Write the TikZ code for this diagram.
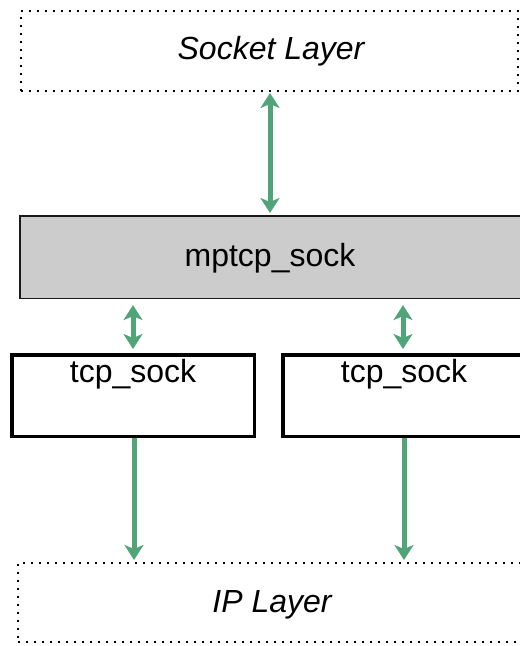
\documentclass[tikz,border=0pt]{standalone}
\usepackage{fontspec}
\setmainfont{Liberation Sans}
\usetikzlibrary{arrows.meta}
\definecolor{arrowgreen}{RGB}{80,164,120}
\definecolor{boxgray}{RGB}{204,204,204}
\tikzset{
  layerbox/.style={draw=black, line width=2pt, dash pattern=on 2pt off 6pt, anchor=north west, inner sep=0pt},
  mpbox/.style={draw=black!90, fill=boxgray, line width=1.6pt, anchor=north west, inner sep=0pt},
  tcpbox/.style={draw=black, line width=3.5pt, anchor=north west, inner sep=0pt},
  lbl/.style={font=\fontsize{32pt}{36pt}\selectfont, inner sep=0pt, anchor=base},
  conn/.style={draw=arrowgreen, line width=5pt, -{Stealth[length=15pt,width=19pt,inset=4pt]}},
  biconn/.style={draw=arrowgreen, line width=5pt, {Stealth[length=15pt,width=19pt,inset=4pt]}-{Stealth[length=15pt,width=19pt,inset=4pt]}}
}
\begin{document}
\begin{tikzpicture}[x=1pt,y=-1pt]
\useasboundingbox (0,0) rectangle (520,646);
\clip (0,0) rectangle (520,646);
% boxes
\node[layerbox, minimum width=497pt, minimum height=80pt] (sock) at (20,10) {};
\node[mpbox, minimum width=520pt, minimum height=82.5pt] (mp) at (19,215) {};
\node[tcpbox, minimum width=242.5pt, minimum height=81.5pt] (tcpL) at (10,353) {};
\node[tcpbox, minimum width=260pt, minimum height=81.5pt] (tcpR) at (281,353) {};
\node[layerbox, minimum width=520pt, minimum height=79pt] (ip) at (17,562) {};
% texts
\node[lbl] (sockt) at (271,59) {\itshape Socket Layer};
\node[lbl] (mpt) at (270,266) {mptcp\_sock};
\node[lbl] (tcpLt) at (133,382) {tcp\_sock};
\node[lbl] (tcpRt) at (404,382) {tcp\_sock};
\node[lbl] (ipt) at (272,612) {\itshape IP Layer};
% connector x positions
\coordinate (xs) at (270,0);
\coordinate (xl) at (133,0);
\coordinate (xr) at (403,0);
\coordinate (xld) at (134,0);
\coordinate (xrd) at (404,0);
% connectors
\draw[biconn, shorten <=1pt, shorten >=2pt] (sock.south -| xs) -- (mp.north -| xs);
\draw[biconn, shorten <=6pt, shorten >=4pt] (mp.south -| xl) -- (tcpL.north -| xl);
\draw[biconn, shorten <=6pt, shorten >=4pt] (mp.south -| xr) -- (tcpR.north -| xr);
\draw[conn, shorten <=0pt, shorten >=2pt] (tcpL.south -| xld) -- (ip.north -| xld);
\draw[conn, shorten <=0pt, shorten >=2pt] (tcpR.south -| xrd) -- (ip.north -| xrd);
\end{tikzpicture}
\end{document}
